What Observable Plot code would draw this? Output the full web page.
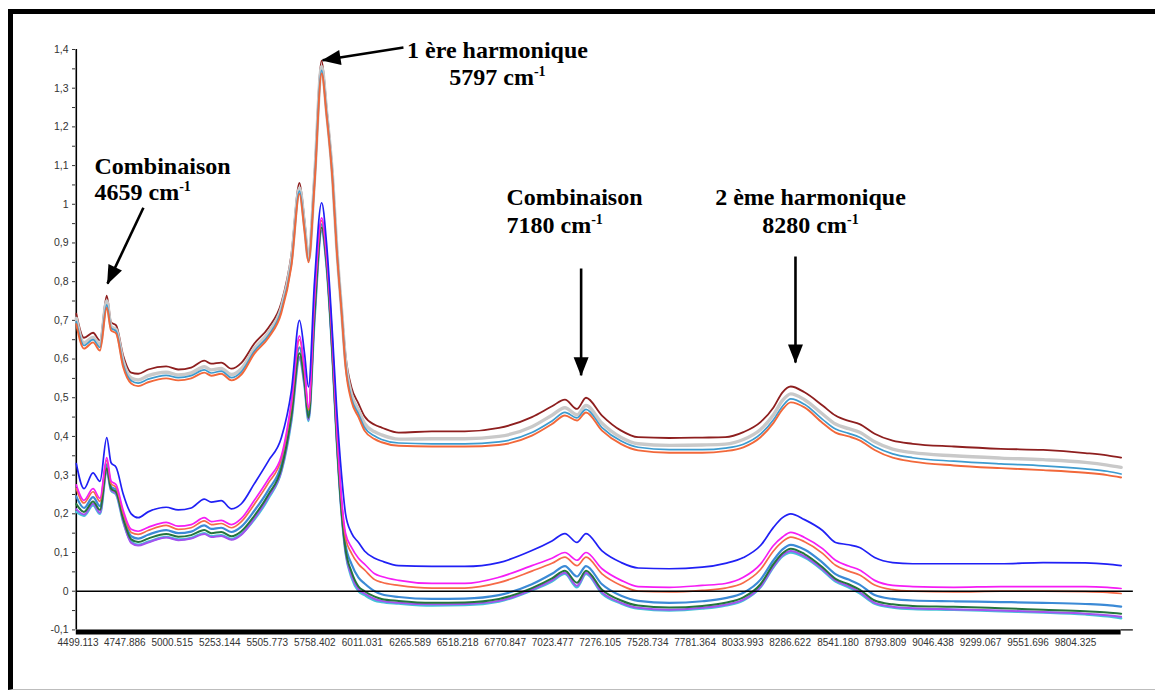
<!DOCTYPE html>
<html><head><meta charset="utf-8">
<script src="https://cdn.jsdelivr.net/npm/d3@7"></script>
<script src="https://cdn.jsdelivr.net/npm/@observablehq/plot@0.6"></script>
<style>
html,body{margin:0;padding:0;background:#fff;width:1155px;height:693px;overflow:hidden;}
#chart{position:absolute;left:0;top:0;}
#frame{position:absolute;left:8px;top:9px;width:1147px;height:681px;border-left:5px solid #000;border-top:5px solid #000;border-bottom:1px solid #bdbdbd;box-sizing:border-box;pointer-events:none;z-index:2;}
</style></head><body>
<div id="chart"></div><div id="frame"></div>
<script>
// ---- wavenumber grid (cm-1) ----
const W = [4490,4531,4579,4616,4652,4675,4702,4739,4782,4819,4872,4968,5032,5101,5171,5208,5261,5315,5368,5437,5512,5581,5634,5677,5704,5725,5757,5795,5821,5853,5874,5901,5922,5954,5991,6023,6077,6114,6205,6381,6556,6738,6913,7020,7089,7153,7201,7286,7388,7478,7644,7819,7942,8038,8129,8198,8246,8290,8363,8459,8528,8598,8656,8736,8832,8939,9157,9408,9632,9856,9973,10047];

// ---- upper group of spectra ----
const upperDarkRed = [0.717,0.655,0.668,0.648,0.764,0.695,0.687,0.61,0.565,0.562,0.573,0.581,0.573,0.578,0.596,0.588,0.591,0.575,0.59,0.64,0.681,0.746,0.87,1.055,0.957,0.865,1.08,1.371,1.25,1.08,0.906,0.733,0.61,0.526,0.485,0.452,0.43,0.423,0.41,0.413,0.413,0.422,0.45,0.478,0.495,0.471,0.5,0.454,0.415,0.398,0.396,0.397,0.398,0.411,0.437,0.475,0.514,0.529,0.514,0.48,0.454,0.44,0.432,0.407,0.389,0.381,0.374,0.368,0.365,0.357,0.351,0.345];
const upperGray = [0.705,0.642,0.656,0.636,0.75,0.684,0.676,0.595,0.551,0.546,0.557,0.566,0.559,0.564,0.58,0.572,0.576,0.56,0.575,0.627,0.668,0.733,0.855,1.042,0.944,0.858,1.065,1.356,1.24,1.07,0.898,0.726,0.595,0.508,0.468,0.434,0.412,0.404,0.393,0.394,0.394,0.4,0.425,0.455,0.474,0.456,0.48,0.434,0.397,0.381,0.377,0.378,0.38,0.392,0.418,0.456,0.493,0.51,0.495,0.458,0.432,0.42,0.411,0.386,0.367,0.358,0.35,0.344,0.34,0.333,0.326,0.32];
const upperLightBlue = [0.697,0.635,0.65,0.63,0.74,0.68,0.672,0.587,0.544,0.538,0.548,0.558,0.552,0.557,0.572,0.564,0.569,0.552,0.567,0.62,0.661,0.727,0.846,1.034,0.937,0.854,1.057,1.346,1.235,1.065,0.894,0.723,0.587,0.498,0.458,0.423,0.401,0.392,0.383,0.381,0.381,0.386,0.41,0.44,0.462,0.448,0.47,0.423,0.388,0.372,0.366,0.366,0.37,0.38,0.406,0.443,0.478,0.497,0.483,0.444,0.419,0.408,0.398,0.374,0.355,0.345,0.336,0.329,0.324,0.316,0.31,0.303];
const upperOrange = [0.69,0.627,0.643,0.622,0.733,0.674,0.666,0.58,0.537,0.53,0.54,0.55,0.545,0.55,0.565,0.557,0.562,0.545,0.56,0.614,0.655,0.72,0.84,1.027,0.93,0.85,1.05,1.338,1.23,1.06,0.89,0.72,0.58,0.49,0.45,0.415,0.393,0.385,0.376,0.374,0.374,0.378,0.402,0.432,0.454,0.441,0.462,0.415,0.38,0.364,0.358,0.358,0.362,0.372,0.398,0.435,0.47,0.488,0.475,0.435,0.41,0.40,0.39,0.365,0.345,0.335,0.325,0.318,0.313,0.306,0.30,0.294];

// ---- lower group of spectra ----
const lowerBlue = [0.33,0.265,0.306,0.284,0.397,0.332,0.32,0.252,0.2,0.19,0.205,0.217,0.21,0.215,0.238,0.23,0.234,0.213,0.226,0.278,0.337,0.397,0.518,0.70,0.614,0.528,0.80,1.004,0.9,0.66,0.48,0.3,0.2,0.15,0.126,0.104,0.085,0.078,0.066,0.064,0.064,0.074,0.105,0.13,0.149,0.126,0.149,0.104,0.074,0.06,0.058,0.062,0.072,0.087,0.118,0.165,0.19,0.2,0.185,0.157,0.126,0.12,0.113,0.087,0.074,0.071,0.071,0.071,0.074,0.073,0.07,0.066];
const lowerMagenta = [0.275,0.235,0.265,0.24,0.345,0.285,0.275,0.21,0.16,0.155,0.165,0.178,0.168,0.172,0.19,0.18,0.183,0.172,0.188,0.235,0.29,0.35,0.49,0.66,0.575,0.475,0.76,0.965,0.87,0.64,0.44,0.24,0.15,0.113,0.085,0.07,0.045,0.038,0.028,0.02,0.02,0.036,0.066,0.085,0.1,0.08,0.1,0.058,0.028,0.012,0.01,0.015,0.02,0.036,0.07,0.118,0.14,0.152,0.139,0.11,0.08,0.065,0.055,0.028,0.015,0.012,0.01,0.012,0.012,0.012,0.01,0.007];
const lowerCoral = [0.265,0.228,0.257,0.232,0.338,0.278,0.268,0.203,0.152,0.147,0.157,0.17,0.16,0.164,0.182,0.172,0.175,0.164,0.18,0.225,0.28,0.342,0.48,0.65,0.567,0.468,0.75,0.958,0.865,0.63,0.43,0.23,0.138,0.098,0.07,0.055,0.03,0.023,0.015,0.008,0.008,0.022,0.052,0.072,0.088,0.066,0.088,0.045,0.015,0.0,-0.002,0.002,0.008,0.022,0.056,0.104,0.128,0.14,0.128,0.098,0.067,0.052,0.042,0.016,0.004,0.0,-0.002,0.0,0.0,-0.001,-0.003,-0.006];
const lowerSteel = [0.245,0.215,0.243,0.22,0.328,0.27,0.262,0.195,0.142,0.136,0.146,0.158,0.15,0.154,0.17,0.161,0.164,0.153,0.167,0.208,0.262,0.328,0.465,0.63,0.55,0.458,0.73,0.948,0.855,0.615,0.415,0.215,0.12,0.07,0.035,0.02,0.0,-0.008,-0.015,-0.02,-0.019,-0.01,0.018,0.045,0.065,0.038,0.065,0.018,-0.012,-0.025,-0.03,-0.026,-0.018,-0.004,0.03,0.08,0.108,0.12,0.108,0.074,0.044,0.03,0.017,-0.01,-0.02,-0.024,-0.026,-0.028,-0.03,-0.033,-0.036,-0.04];
const lowerGreen = [0.225,0.205,0.232,0.21,0.318,0.265,0.256,0.188,0.134,0.127,0.136,0.148,0.141,0.145,0.158,0.15,0.153,0.142,0.155,0.195,0.25,0.318,0.452,0.615,0.54,0.448,0.715,0.94,0.848,0.605,0.405,0.205,0.108,0.05,0.012,0.0,-0.014,-0.02,-0.025,-0.03,-0.029,-0.02,0.008,0.033,0.053,0.022,0.053,0.004,-0.024,-0.037,-0.042,-0.038,-0.03,-0.016,0.018,0.07,0.098,0.11,0.096,0.062,0.032,0.018,0.004,-0.024,-0.034,-0.038,-0.04,-0.044,-0.048,-0.052,-0.055,-0.058];
const lowerPurple = [0.212,0.198,0.226,0.203,0.312,0.262,0.252,0.182,0.125,0.118,0.126,0.139,0.132,0.136,0.148,0.14,0.143,0.133,0.146,0.188,0.244,0.312,0.445,0.605,0.533,0.443,0.705,0.933,0.843,0.602,0.402,0.202,0.103,0.04,0.005,-0.006,-0.02,-0.025,-0.03,-0.034,-0.033,-0.025,0.004,0.028,0.048,0.014,0.048,-0.003,-0.03,-0.043,-0.048,-0.043,-0.035,-0.022,0.012,0.064,0.093,0.104,0.09,0.057,0.028,0.013,-0.002,-0.03,-0.04,-0.044,-0.047,-0.05,-0.054,-0.058,-0.062,-0.066];
const lowerCyan = [0.205,0.195,0.222,0.2,0.31,0.26,0.25,0.18,0.128,0.12,0.128,0.14,0.134,0.138,0.15,0.142,0.145,0.135,0.148,0.185,0.24,0.31,0.44,0.6,0.53,0.44,0.7,0.93,0.84,0.6,0.4,0.2,0.1,0.035,0.0,-0.01,-0.024,-0.028,-0.032,-0.037,-0.036,-0.027,0.002,0.025,0.045,0.01,0.045,-0.006,-0.032,-0.045,-0.05,-0.045,-0.037,-0.024,0.01,0.062,0.09,0.1,0.087,0.054,0.025,0.01,-0.005,-0.032,-0.042,-0.046,-0.048,-0.052,-0.055,-0.06,-0.065,-0.07];

// ---- axes ----
const xTickLabels = ["4499.113","4747.886","5000.515","5253.144","5505.773","5758.402","6011.031","6265.589","6518.218","6770.847","7023.477","7276.105","7528.734","7781.364","8033.993","8286.622","8541.180","8793.809","9046.438","9299.067","9551.696","9804.325"];
const yTicks = [-0.1,0,0.1,0.2,0.3,0.4,0.5,0.6,0.7,0.8,0.9,1,1.1,1.2,1.3,1.4];
const yMinorTicks = [-0.05,0.05,0.15,0.25,0.35,0.45,0.55,0.65,0.75,0.85,0.95,1.05,1.15,1.25,1.35];
const axisEnd = 10112;

// ---- annotations ----
const labelsLeft = [
  {text:"Combinaison", x:4587, y:1.079},
  {text:"4659 cm-1", x:4587, y:1.012},
  {text:"Combinaison", x:6778, y:0.997},
  {text:"7180 cm-1", x:6778, y:0.927}
];
const labelsCentered = [
  {text:"1 ère harmonique", x:6730, y:1.377},
  {text:"5797 cm-1", x:6730, y:1.307},
  {text:"2 ème harmonique", x:8395, y:0.997},
  {text:"8280 cm-1", x:8395, y:0.927}
];
const annotationArrows = [
  {x1:6230, y1:1.405, x2:5800, y2:1.372},
  {x1:4847, y1:0.991, x2:4656, y2:0.795},
  {x1:7175, y1:0.834, x2:7175, y2:0.558},
  {x1:8315, y1:0.865, x2:8315, y2:0.591}
];

const series = [
  {values: upperDarkRed, color:"#8e1f1f", width:1.8},
  {values: upperGray, color:"#c9c9c9", width:3.4},
  {values: upperLightBlue, color:"#3d9bcf", width:1.7},
  {values: upperOrange, color:"#f2683a", width:1.9},
  {values: lowerCyan, color:"#45c3d8", width:2.4},
  {values: lowerPurple, color:"#a352f0", width:2},
  {values: lowerSteel, color:"#3b8ad6", width:2.2},
  {values: lowerGreen, color:"#23753d", width:2},
  {values: lowerCoral, color:"#f66a48", width:1.7},
  {values: lowerMagenta, color:"#f51df5", width:1.7},
  {values: lowerBlue, color:"#2020f5", width:1.7}
];

const fmtY = d => String(Math.round(d * 100) / 100).replace(".", ",");
const textStyle = {x: "x", y: "y", text: "text", lineAnchor: "bottom", fontSize: 24, fontWeight: "bold",
  fontFamily: "'Liberation Serif', 'Times New Roman', serif", fill: "#000"};

const plot = Plot.plot({
  width: 1155, height: 693,
  marginLeft: 75, marginRight: 20, marginTop: 49, marginBottom: 63.6,
  x: {domain: [Number(xTickLabels[0]), Number(xTickLabels[xTickLabels.length - 1])], range: [77.5, 1075]},
  y: {domain: [yTicks[0], yTicks[yTicks.length - 1]]},
  style: {background: "transparent", fontFamily: "'Liberation Sans', Arial, sans-serif", fontSize: "10.5px", color: "#333"},
  marks: [
    Plot.axisY({ticks: yTicks, tickSize: 3, tickPadding: 4, tickFormat: fmtY, label: null, anchor: "left", fontSize: 10.5}),
    Plot.axisY({ticks: yMinorTicks, tickSize: 3, tickFormat: () => "", label: null, anchor: "left"}),
    Plot.axisX({ticks: xTickLabels.map(Number), tickSize: 0, tickPadding: 9, tickFormat: d => d.toFixed(3), label: null, fontSize: 10}),
    Plot.ruleX([W[0]], {y1: yTicks[0], y2: yTicks[yTicks.length - 1], stroke: "#000", strokeWidth: 1.6}),
    ...series.map(s => Plot.line(W.map((w, i) => ({w, v: s.values[i]})), {x: "w", y: "v", stroke: s.color, strokeWidth: s.width, curve: "monotone-x"})),
    Plot.ruleY([0], {x1: W[0], x2: axisEnd, stroke: "#000", strokeWidth: 1.6}),
    Plot.ruleY([yTicks[0]], {x1: W[0], x2: W[W.length - 1], stroke: "#000", strokeWidth: 5, dy: 2}),
    Plot.ruleY([yTicks[0]], {x1: W[W.length - 1], x2: axisEnd, stroke: "#000", strokeWidth: 1.2}),
    Plot.link(annotationArrows, {x1: "x1", y1: "y1", x2: "x2", y2: "y2", stroke: "#000", strokeWidth: 2.6}),
    Plot.text(labelsLeft, {...textStyle, textAnchor: "start"}),
    Plot.text(labelsCentered, {...textStyle, textAnchor: "middle"})
  ]
});

// post-processing: superscript "-1" and filled arrowheads
const ns = "http://www.w3.org/2000/svg";
plot.querySelectorAll('g[aria-label="text"] text').forEach(t => {
  const m = (t.textContent || "").match(/^(.*cm)-1$/);
  if (m) {
    t.textContent = "";
    const a = document.createElementNS(ns, "tspan"); a.textContent = m[1];
    const b = document.createElementNS(ns, "tspan"); b.textContent = "-1";
    b.setAttribute("dy", "-9"); b.setAttribute("font-size", "14");
    t.appendChild(a); t.appendChild(b);
  }
});
const defs = document.createElementNS(ns, "defs");
const marker = document.createElementNS(ns, "marker");
marker.setAttribute("id", "ahead");
marker.setAttribute("viewBox", "-19 -8 20 16");
marker.setAttribute("markerWidth", "20"); marker.setAttribute("markerHeight", "16");
marker.setAttribute("markerUnits", "userSpaceOnUse");
marker.setAttribute("orient", "auto");
marker.setAttribute("refX", "0"); marker.setAttribute("refY", "0");
const mp = document.createElementNS(ns, "path");
mp.setAttribute("d", "M1,0L-18,-7.5L-18,7.5Z"); mp.setAttribute("fill", "#000");
marker.appendChild(mp); defs.appendChild(marker);
plot.insertBefore(defs, plot.firstChild);
plot.querySelectorAll('g[aria-label="link"] path').forEach(p => p.setAttribute("marker-end", "url(#ahead)"));

document.getElementById("chart").appendChild(plot);
</script></body></html>
